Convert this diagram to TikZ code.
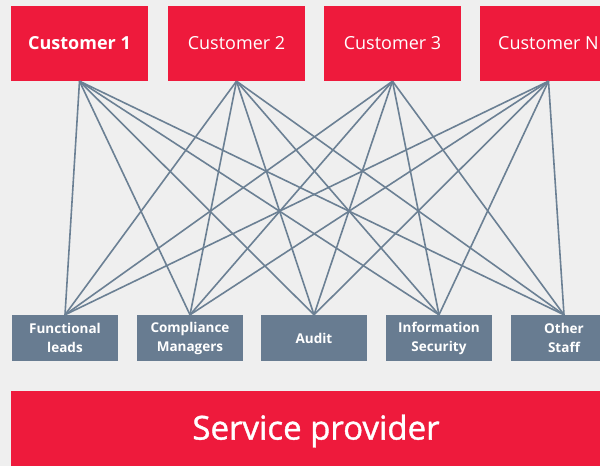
\documentclass[tikz,border=0pt]{standalone}
\usepackage{fontspec}
\setmainfont{Open Sans}
\newfontfamily\spfont{Open Sans}[FakeBold=1.2]
\definecolor{cred}{HTML}{EE1A3C}
\definecolor{cgray}{HTML}{687C91}
\definecolor{cbg}{HTML}{EFEFEF}
\definecolor{cline}{HTML}{6B8094}
\begin{document}
\begin{tikzpicture}[x=1pt,y=-1pt,
  cust/.style={fill=cred,text=white,minimum width=137pt,minimum height=75pt,inner sep=0pt,font=\fontsize{18}{20}\selectfont},
  role/.style={fill=cgray,text=white,minimum width=106pt,minimum height=46pt,inner sep=0pt,align=center,font=\bfseries\fontsize{13.5}{19}\selectfont},
  link/.style={draw=cline,line width=1.6pt}]
\fill[cbg] (0,0) rectangle (600,466);
\useasboundingbox (0,0) rectangle (600,466);
\node[cust,font=\bfseries\fontsize{18}{20}\selectfont] (c1) at (79.5,43.5) {\raisebox{-1.5pt}{Customer 1}};
\node[cust] (c2) at (236.5,43.5) {\raisebox{-1.5pt}{Customer 2}};
\node[cust] (c3) at (392.5,43.5) {\raisebox{-1.5pt}{Customer 3}};
\node[cust] (cn) at (548.5,43.5) {\raisebox{-1.5pt}{Customer N}};
\node[role] (fl) at (65,338) {Functional\\leads};
\node[role] (cm) at (190,338) {Compliance\\Managers};
\node[role] (au) at (314,338) {Audit};
\node[role] (is) at (439,338) {Information\\Security};
\node[role] (os) at (564,338) {Other\\Staff};
\node[fill=cred,text=white,minimum width=610pt,minimum height=80pt,inner sep=0pt,font=\spfont\fontsize{33}{36}\selectfont] (sp) at (316,431) {\raisebox{-2pt}{Service provider}};
\foreach \c in {c1,c2,c3,cn}{
  \foreach \r in {fl,cm,au,is,os}{
    \draw[link] (\c.south) -- (\r.north);
  }
}
\end{tikzpicture}
\end{document}
